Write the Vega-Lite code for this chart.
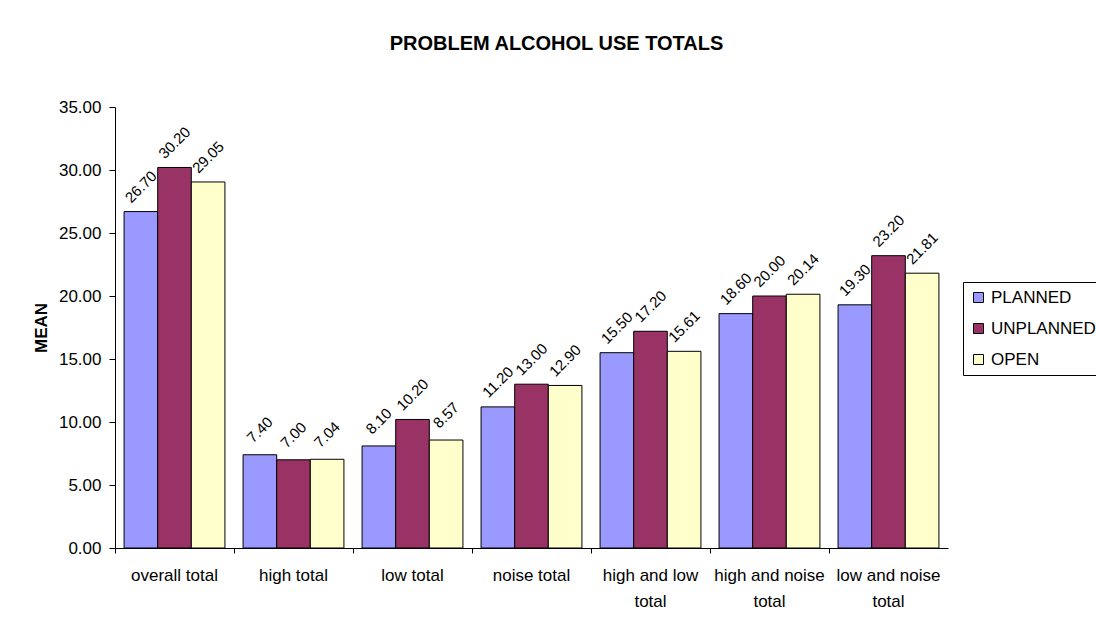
{
  "$schema": "https://vega.github.io/schema/vega-lite/v6.json",
  "autosize": "none",
  "width": 833,
  "height": 441,
  "padding": {"left": 115, "top": 107, "right": 148, "bottom": 82},
  "background": "white",
  "config": {
    "font": "Liberation Sans",
    "view": {"stroke": null},
    "axis": {
      "domainColor": "black",
      "tickColor": "black",
      "labelColor": "black",
      "titleColor": "black",
      "labelFont": "Liberation Sans",
      "titleFont": "Liberation Sans",
      "labelFontSize": 17,
      "grid": false
    }
  },
  "title": {
    "text": "PROBLEM ALCOHOL USE TOTALS",
    "fontSize": 20,
    "fontWeight": "bold",
    "color": "black",
    "anchor": "middle",
    "offset": 44,
    "dx": 25
  },
  "data": {
    "values": [
      {"category": "overall total", "series": "PLANNED", "score": 26.70},
      {"category": "overall total", "series": "UNPLANNED", "score": 30.20},
      {"category": "overall total", "series": "OPEN", "score": 29.05},
      {"category": "high total", "series": "PLANNED", "score": 7.40},
      {"category": "high total", "series": "UNPLANNED", "score": 7.00},
      {"category": "high total", "series": "OPEN", "score": 7.04},
      {"category": "low total", "series": "PLANNED", "score": 8.10},
      {"category": "low total", "series": "UNPLANNED", "score": 10.20},
      {"category": "low total", "series": "OPEN", "score": 8.57},
      {"category": "noise total", "series": "PLANNED", "score": 11.20},
      {"category": "noise total", "series": "UNPLANNED", "score": 13.00},
      {"category": "noise total", "series": "OPEN", "score": 12.90},
      {"category": "high and low total", "series": "PLANNED", "score": 15.50},
      {"category": "high and low total", "series": "UNPLANNED", "score": 17.20},
      {"category": "high and low total", "series": "OPEN", "score": 15.61},
      {"category": "high and noise total", "series": "PLANNED", "score": 18.60},
      {"category": "high and noise total", "series": "UNPLANNED", "score": 20.00},
      {"category": "high and noise total", "series": "OPEN", "score": 20.14},
      {"category": "low and noise total", "series": "PLANNED", "score": 19.30},
      {"category": "low and noise total", "series": "UNPLANNED", "score": 23.20},
      {"category": "low and noise total", "series": "OPEN", "score": 21.81}
    ]
  },
  "encoding": {
    "x": {
      "field": "category",
      "type": "nominal",
      "sort": null,
      "scale": {"paddingInner": 0, "paddingOuter": 0},
      "axis": {
        "title": null,
        "labelAngle": 0,
        "tickSize": 5,
        "bandPosition": 0,
        "labelPadding": 14,
        "labelLineHeight": 26,
        "labelLimit": 200,
        "labelExpr": "indexof(datum.value, ' and ') > 0 ? [replace(datum.value, ' total', ''), 'total'] : datum.value"
      }
    },
    "xOffset": {
      "field": "series",
      "type": "nominal",
      "sort": null,
      "scale": {"paddingInner": 0, "paddingOuter": 0.27}
    },
    "y": {
      "field": "score",
      "type": "quantitative",
      "scale": {"domain": [0, 35], "nice": false},
      "axis": {
        "title": "MEAN",
        "titleFontSize": 17,
        "titleFontWeight": "bold",
        "titlePadding": 8,
        "values": [0, 5, 10, 15, 20, 25, 30, 35],
        "format": ".2f",
        "tickSize": 6,
        "labelPadding": 8
      }
    }
  },
  "layer": [
    {
      "mark": {"type": "bar", "stroke": "black", "strokeWidth": 1},
      "encoding": {
        "color": {
          "field": "series",
          "type": "nominal",
          "sort": null,
          "scale": {"range": ["#9999FF", "#993366", "#FFFFCC"]},
          "legend": {
            "title": null,
            "orient": "none",
            "legendX": 848,
            "legendY": 175,
            "strokeColor": "black",
            "padding": 7,
            "rowPadding": 13,
            "labelFontSize": 17,
            "labelColor": "black",
            "symbolType": "square",
            "symbolSize": 100,
            "symbolStrokeColor": "black",
            "symbolStrokeWidth": 1
          }
        }
      }
    },
    {
      "mark": {
        "type": "text",
        "angle": 315,
        "align": "center",
        "baseline": "middle",
        "dx": 17.5,
        "dy": -17.5,
        "fontSize": 15,
        "color": "black"
      },
      "encoding": {
        "text": {"field": "score", "type": "quantitative", "format": ".2f"}
      }
    }
  ]
}
